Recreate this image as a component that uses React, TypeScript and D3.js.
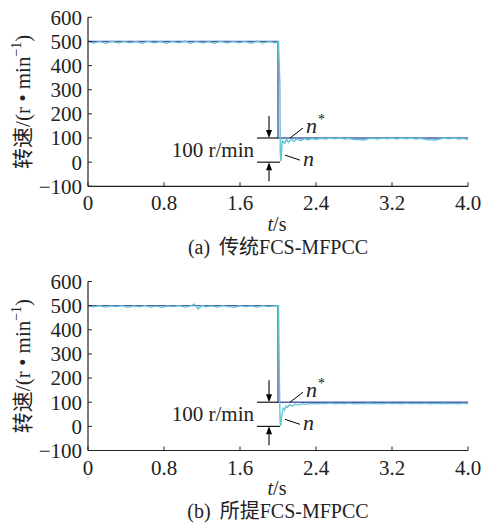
import React from 'react';
import * as d3 from 'd3';

const xTicks = [0, 0.8, 1.6, 2.4, 3.2, 4.0];
const xTickLabels = ['0', '0.8', '1.6', '2.4', '3.2', '4.0'];
const yTicks = [-100, 0, 100, 200, 300, 400, 500, 600];

const refTimes = [0, 2.0, 2.0, 4.0];
const refSpeed = [500, 500, 100, 100];

const timesA = [0, 0.06, 0.12, 0.19, 0.25, 0.32, 0.38, 0.44, 0.51, 0.57, 0.63, 0.70, 0.76, 0.83, 0.89, 0.95, 1.02, 1.08, 1.14, 1.21, 1.27, 1.33, 1.40, 1.46, 1.53, 1.59, 1.65, 1.72, 1.78, 1.84, 1.91, 1.97, 2.005, 2.02, 2.024, 2.03, 2.045, 2.07, 2.09, 2.11, 2.14, 2.17, 2.2, 2.24, 2.28, 2.32, 2.36, 2.4, 2.45, 2.5, 2.55, 2.6, 2.65, 2.7, 2.75, 2.8, 2.85, 2.9, 2.95, 3.0, 3.05, 3.1, 3.15, 3.2, 3.25, 3.3, 3.35, 3.4, 3.45, 3.5, 3.55, 3.6, 3.65, 3.7, 3.75, 3.8, 3.85, 3.9, 3.95, 4.0];
const speedA = [500, 493, 500, 492, 501, 493, 500, 494, 500, 492, 501, 493, 500, 492, 500, 494, 501, 492, 500, 493, 500, 492, 501, 493, 500, 494, 500, 492, 501, 493, 500, 494, 500, 320, 40, 4, 88, 78, 95, 82, 96, 86, 97, 89, 98, 92, 99, 94, 99, 96, 100, 97, 101, 96, 99, 94, 95, 92, 97, 99, 96, 100, 97, 101, 96, 100, 97, 100, 96, 99, 95, 93, 92, 96, 100, 97, 101, 96, 99, 94];

const timesB = [0, 0.06, 0.12, 0.18, 0.24, 0.30, 0.36, 0.42, 0.48, 0.54, 0.60, 0.66, 0.72, 0.78, 0.84, 0.90, 0.96, 1.02, 1.08, 1.12, 1.16, 1.20, 1.24, 1.30, 1.36, 1.42, 1.48, 1.54, 1.60, 1.66, 1.72, 1.78, 1.84, 1.90, 1.96, 2.005, 2.015, 2.022, 2.028, 2.04, 2.055, 2.07, 2.085, 2.1, 2.12, 2.15, 2.18, 2.22, 2.26, 2.3, 2.35, 2.4, 2.45, 2.5, 2.55, 2.6, 2.65, 2.7, 2.75, 2.8, 2.85, 2.9, 2.95, 3.0, 3.05, 3.1, 3.15, 3.2, 3.25, 3.3, 3.35, 3.4, 3.45, 3.5, 3.55, 3.6, 3.65, 3.7, 3.75, 3.8, 3.85, 3.9, 3.95, 4.0];
const speedB = [499, 495, 500, 494, 499, 496, 500, 493, 499, 495, 500, 494, 498, 493, 499, 496, 500, 494, 499, 506, 486, 501, 495, 499, 494, 500, 496, 493, 500, 495, 499, 494, 500, 496, 499, 500, 180, 20, 2, 45, 75, 68, 84, 78, 89, 84, 92, 88, 94, 91, 95, 93, 95, 94, 96, 93, 95, 94, 96, 93, 95, 94, 96, 94, 95, 93, 96, 94, 95, 93, 96, 94, 95, 94, 96, 93, 95, 94, 96, 94, 95, 93, 96, 94];

const captionsLabel = ['(a)', '(b)'];
const captionsText = ['传统FCS-MFPCC', '所提FCS-MFPCC'];

const SERIF = '"Liberation Serif", "Times New Roman", serif';
const CJK = '"Noto Sans CJK SC", sans-serif';
const REF_COLOR = '#4f5aa6';
const N_COLOR = '#62c3d6';
const FS = 21;

function Arrow({ x, y1, y2 }: { x: number; y1: number; y2: number }) {
  const dir = y2 > y1 ? 1 : -1;
  const head = 8;
  return (
    <g>
      <line x1={x} y1={y1} x2={x} y2={y2 - dir * head} stroke="#000" strokeWidth={1.1} />
      <path d={`M${x - 3},${y2 - dir * head} L${x + 3},${y2 - dir * head} L${x},${y2} Z`} fill="#000" />
    </g>
  );
}

function Panel({ top, idx, times, speed }: { top: number; idx: number; times: number[]; speed: number[] }) {
  const left = 88;
  const right = 468;
  const bottom = top + 169;
  const x = d3.scaleLinear().domain([0, 4]).range([left, right]);
  const y = d3.scaleLinear().domain([-100, 600]).range([bottom, top]);
  const line = d3.line<number>().x((_, i) => x(times[i])).y((d) => y(d));
  const refLine = d3.line<number>().x((_, i) => x(refTimes[i])).y((d) => y(d));
  const y100 = y(100);
  const y0 = y(0);
  const cx = (left + right) / 2;
  return (
    <g>
      <path d={refLine(refSpeed) || ''} fill="none" stroke={REF_COLOR} strokeWidth={1.4} />
      <path d={line(speed) || ''} fill="none" stroke={N_COLOR} strokeWidth={1.4} />
      <line x1={left} y1={top} x2={left} y2={bottom} stroke="#222" strokeWidth={1.2} />
      <line x1={left} y1={bottom} x2={right} y2={bottom} stroke="#222" strokeWidth={1.2} />
      {yTicks.map((t) => (
        <g key={t}>
          <line x1={left} x2={left + 4} y1={y(t)} y2={y(t)} stroke="#222" strokeWidth={1} />
          <text x={82} y={y(t)} dy="0.35em" textAnchor="end" fontFamily={SERIF} fontSize={FS} fill="#222">
            {t < 0 ? '\u2212' + Math.abs(t) : t}
          </text>
        </g>
      ))}
      {xTicks.map((t, i) => (
        <g key={t}>
          <line x1={x(t)} x2={x(t)} y1={bottom} y2={bottom - 4} stroke="#222" strokeWidth={1} />
          <text x={x(t)} y={bottom + 24} textAnchor="middle" fontFamily={SERIF} fontSize={FS} fill="#222">
            {xTickLabels[i]}
          </text>
        </g>
      ))}
      <text x={277} y={bottom + 44.5} textAnchor="middle" fontFamily={SERIF} fontSize={20} fill="#222">
        <tspan fontStyle="italic">t</tspan>/s
      </text>
      <text x={cx} y={bottom + 67.5} textAnchor="middle" fontSize={20} fill="#222">
        <tspan fontFamily={SERIF}>{captionsLabel[idx]}</tspan>
        <tspan fontFamily={CJK} dx={9}>{captionsText[idx].slice(0, 2)}</tspan>
        <tspan fontFamily={SERIF}>{captionsText[idx].slice(2)}</tspan>
      </text>
      <text
        transform={`translate(30,${(top + bottom) / 2}) rotate(-90)`}
        textAnchor="middle"
        fontSize={FS}
        fill="#222"
      >
        <tspan fontFamily={CJK}>转速</tspan>
        <tspan fontFamily={SERIF}>/(r • min</tspan>
        <tspan fontFamily={SERIF} fontSize={14} dy={-9}>−1</tspan>
        <tspan fontFamily={SERIF} dy={9}>)</tspan>
      </text>
      <line x1={257} x2={x(2.0)} y1={y100} y2={y100} stroke="#000" strokeWidth={1.1} />
      <line x1={257} x2={x(2.02)} y1={y0} y2={y0} stroke="#000" strokeWidth={1.1} />
      <Arrow x={269} y1={y100 - 22} y2={y100} />
      <Arrow x={269} y1={y0 + 19} y2={y0} />
      <text x={254} y={(y100 + y0) / 2 + 7} textAnchor="end" fontFamily={SERIF} fontSize={FS} fill="#222">
        100 r/min
      </text>
      <line x1={290} y1={y100} x2={303} y2={y100 - 10} stroke="#000" strokeWidth={1} />
      <text x={306} y={y100 - 5} fontFamily={SERIF} fontSize={22} fontStyle="italic" fill="#222">
        n
      </text>
      <text x={318} y={y100 - 14} fontFamily={SERIF} fontSize={14} fill="#222">
        *
      </text>
      <line x1={285} y1={y0 - 7} x2={300} y2={y0 - 2} stroke="#000" strokeWidth={1} />
      <text x={303} y={y0 + 4} fontFamily={SERIF} fontSize={22} fontStyle="italic" fill="#222">
        n
      </text>
    </g>
  );
}

export default function App() {
  return (
    <svg width={482} height={526} style={{ position: 'absolute', left: 0, top: 0, background: '#fff' }}>
      <rect x={0} y={0} width={482} height={526} fill="#fff" />
      <Panel top={17.3} idx={0} times={timesA} speed={speedA} />
      <Panel top={281.5} idx={1} times={timesB} speed={speedB} />
    </svg>
  );
}
